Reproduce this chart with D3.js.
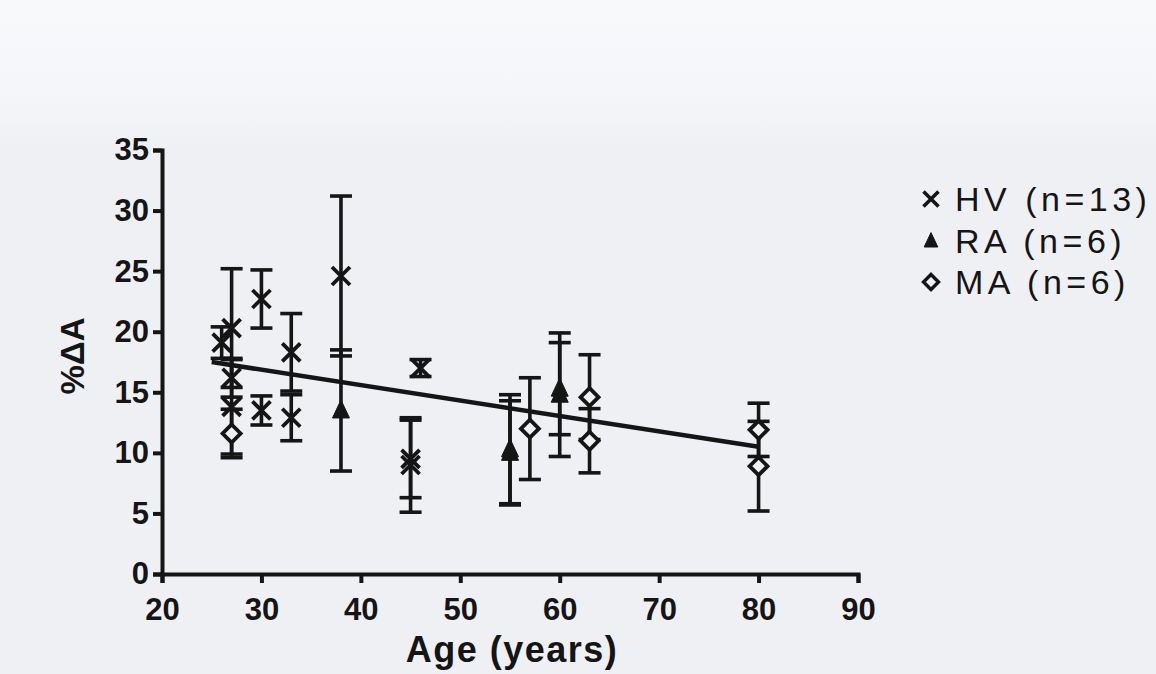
<!DOCTYPE html>
<html>
<head>
<meta charset="utf-8">
<script src="https://cdn.jsdelivr.net/npm/d3@7/dist/d3.min.js"></script>
<style>
  html, body { margin: 0; padding: 0; background: #f0f1f5; }
  svg { display: block; }
</style>
</head>
<body>
<svg id="chart" width="1156" height="674"></svg>
<script>
// Group means with SD, by age (years)
const hvAge  = [26, 27, 27, 27, 30, 30, 33, 33, 38, 45, 45, 46];
const hvMean = [19.1, 20.3, 16.2, 13.8, 22.7, 13.5, 18.3, 12.9, 24.6, 9.5, 9.0, 17.0];
const hvSD   = [1.3, 4.9, 1.6, 3.9, 2.4, 1.2, 3.2, 1.9, 6.6, 3.2, 3.9, 0.7];

const raAge  = [38, 55, 55, 60, 60];
const raMean = [13.5, 10.0, 10.3, 14.8, 15.3];
const raSD   = [5.0, 4.3, 4.5, 5.1, 3.8];

const maAge  = [27, 57, 63, 63, 80, 80];
const maMean = [11.6, 12.0, 14.6, 11.0, 11.9, 8.9];
const maSD   = [2.0, 4.2, 3.5, 2.65, 2.2, 3.7];

// Linear fit over the age range
const fitAge = [25, 80];
const fitVal = [17.5, 10.5];

const xTicks = [20, 30, 40, 50, 60, 70, 80, 90];
const yTicks = [0, 5, 10, 15, 20, 25, 30, 35];

const legendLabels = ["HV (n=13)", "RA (n=6)", "MA (n=6)"];

const svg = d3.select("#chart");
const ink = "#151515";
const paper = "#eff0f4";
const font = "'Liberation Sans', Arial, sans-serif";

// Page background, a little lighter towards the top
const grad = svg.append("defs").append("linearGradient")
  .attr("id", "bg").attr("x1", 0).attr("y1", 0).attr("x2", 0).attr("y2", 1);
grad.append("stop").attr("offset", "0").attr("stop-color", "#f8f9fb");
grad.append("stop").attr("offset", "0.14").attr("stop-color", "#f5f6f9");
grad.append("stop").attr("offset", "0.22").attr("stop-color", paper);
grad.append("stop").attr("offset", "1").attr("stop-color", paper);
svg.append("rect").attr("width", 1156).attr("height", 674).attr("fill", "url(#bg)");

const x = d3.scaleLinear().domain([20, 90]).range([162, 858]);
const y = d3.scaleLinear().domain([0, 35]).range([574, 150]);

// Axes
const xAxis = svg.append("g")
  .attr("transform", `translate(0,${y(0)})`)
  .call(d3.axisBottom(x).tickValues(xTicks).tickSize(9).tickPadding(15).tickFormat(d3.format("d")));
const yAxis = svg.append("g")
  .attr("transform", `translate(${x(20)},0)`)
  .call(d3.axisLeft(y).tickValues(yTicks).tickSize(9).tickPadding(4).tickFormat(d3.format("d")));

[xAxis, yAxis].forEach(g => {
  g.select(".domain").attr("stroke", ink).attr("stroke-width", 4);
  g.selectAll(".tick line").attr("stroke", ink).attr("stroke-width", 4);
  g.selectAll(".tick text")
    .attr("fill", ink)
    .style("font-family", font)
    .style("font-weight", "bold")
    .style("font-size", "31px");
});
xAxis.selectAll(".tick text").attr("dy", "0.71em");
yAxis.selectAll(".tick text").attr("dy", "0.32em");

// Axis titles
svg.append("text")
  .attr("x", x(55.2)).attr("y", 662)
  .attr("text-anchor", "middle")
  .attr("fill", ink)
  .style("font-family", font)
  .style("font-weight", "bold").style("font-size", "36px")
  .style("letter-spacing", "1.5px")
  .text("Age (years)");

svg.append("text")
  .attr("transform", `translate(84,${y(18)}) rotate(-90)`)
  .attr("text-anchor", "middle")
  .attr("fill", ink)
  .style("font-family", font)
  .style("font-weight", "bold").style("font-size", "33px")
  .text("%ΔA");

// Regression line
svg.append("line")
  .attr("x1", x(fitAge[0])).attr("y1", y(fitVal[0]))
  .attr("x2", x(fitAge[1])).attr("y2", y(fitVal[1]))
  .attr("stroke", ink).attr("stroke-width", 4.5);

// Error bars with caps
function errorBars(ages, means, sds) {
  const g = svg.append("g").attr("stroke", ink).attr("stroke-width", 3.6);
  ages.forEach((a, i) => {
    const cx = x(a), hi = y(means[i] + sds[i]), lo = y(means[i] - sds[i]);
    g.append("line").attr("x1", cx).attr("x2", cx).attr("y1", hi).attr("y2", lo);
    g.append("line").attr("x1", cx - 11).attr("x2", cx + 11).attr("y1", hi).attr("y2", hi);
    g.append("line").attr("x1", cx - 11).attr("x2", cx + 11).attr("y1", lo).attr("y2", lo);
  });
}
errorBars(hvAge, hvMean, hvSD);
errorBars(raAge, raMean, raSD);
errorBars(maAge, maMean, maSD);

// Marker shapes
function crossMark(g, cx, cy, r, w) {
  g.append("path")
    .attr("d", `M${cx - r},${cy - r}L${cx + r},${cy + r}M${cx - r},${cy + r}L${cx + r},${cy - r}`)
    .attr("stroke", ink).attr("stroke-width", w).attr("fill", "none");
}
function triMark(g, cx, cy, r) {
  g.append("path")
    .attr("d", `M${cx},${cy - r * 1.05}L${cx + r * 0.85},${cy + r * 0.75}L${cx - r * 0.85},${cy + r * 0.75}Z`)
    .attr("fill", ink).attr("stroke", ink).attr("stroke-width", 1);
}
function diaMark(g, cx, cy, r, w) {
  g.append("path")
    .attr("d", `M${cx},${cy - r}L${cx + r},${cy}L${cx},${cy + r}L${cx - r},${cy}Z`)
    .attr("fill", paper).attr("stroke", ink).attr("stroke-width", w);
}

const marks = svg.append("g");
hvAge.forEach((a, i) => crossMark(marks, x(a), y(hvMean[i]), 9, 3.8));
raAge.forEach((a, i) => triMark(marks, x(a), y(raMean[i]), 10));
maAge.forEach((a, i) => diaMark(marks, x(a), y(maMean[i]), 9, 3.8));

// Legend
const legend = svg.append("g");
const legendY = [199, 241, 282];
const drawers = [
  (g, cx, cy) => crossMark(g, cx, cy, 7.5, 3.6),
  (g, cx, cy) => triMark(g, cx, cy, 8),
  (g, cx, cy) => diaMark(g, cx, cy, 7.5, 3.4)
];
legendLabels.forEach((lab, i) => {
  drawers[i](legend, 931, legendY[i]);
  legend.append("text")
    .attr("x", 955).attr("y", legendY[i]).attr("dy", "0.36em")
    .attr("fill", ink)
    .style("font-family", font)
    .style("font-size", "34px")
    .style("letter-spacing", "4.5px")
    .text(lab);
});
</script>
</body>
</html>
